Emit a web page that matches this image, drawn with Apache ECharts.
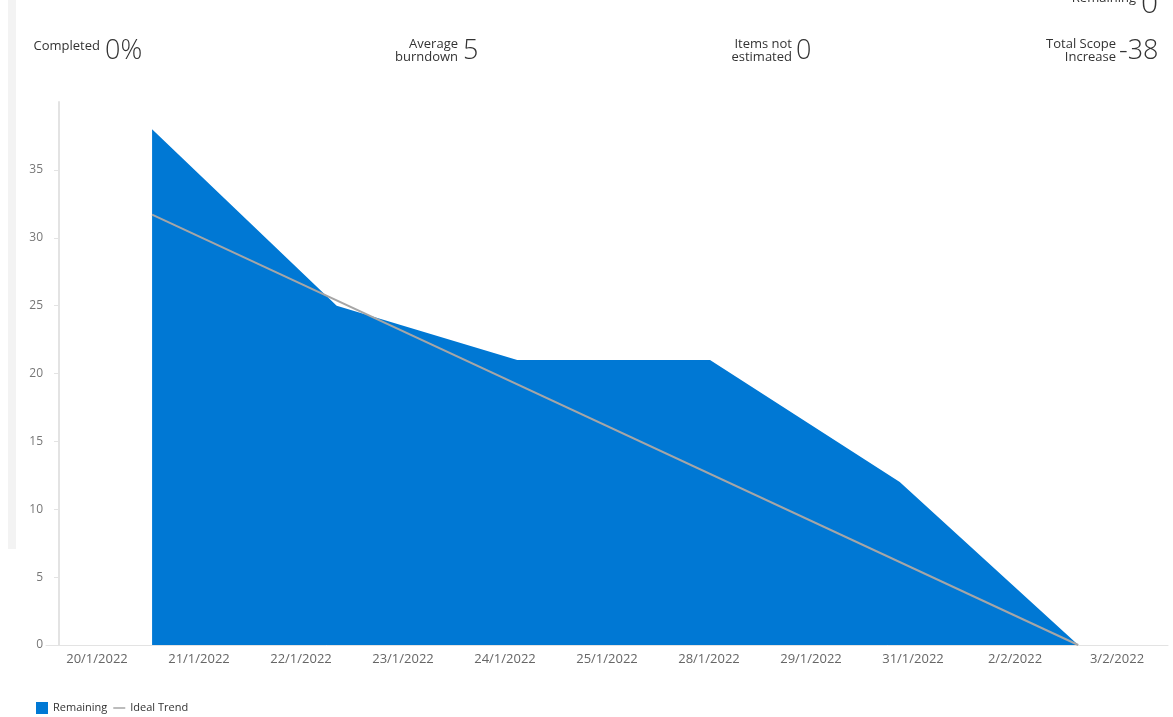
<!DOCTYPE html>
<html>
<head>
<meta charset="utf-8">
<script src="https://cdn.jsdelivr.net/npm/echarts@6/dist/echarts.min.js"></script>
<style>
  html, body { margin: 0; padding: 0; background: #ffffff; }
  #chart { width: 1173px; height: 717px; }
</style>
</head>
<body>
<div id="chart"></div>
<script>
// ---- data ----
var dateLabels = ['20/1/2022', '21/1/2022', '22/1/2022', '23/1/2022', '24/1/2022', '25/1/2022', '28/1/2022', '29/1/2022', '31/1/2022', '2/2/2022', '3/2/2022'];
// positions measured along the date axis (in category-band units)
var remainingX = [1.04, 2.85, 4.62, 6.51, 8.37, 10.12];
var remainingY = [38, 25, 21, 21, 12, 0];
var idealX = [1.04, 10.12];
var idealY = [31.7, 0];
var yTicks = { min: 0, max: 40, interval: 5 };
var statLabels = [['Completed'], ['Average', 'burndown'], ['Items not', 'estimated'], ['Total Scope', 'Increase']];
var statValues = ['0%', '5', '0', '-38'];

var remainingData = remainingX.map(function (x, i) { return [x, remainingY[i]]; });
var idealData = idealX.map(function (x, i) { return [x, idealY[i]]; });

var FONT = '"Open Sans", "Noto Sans", sans-serif';
var chart = echarts.init(document.getElementById('chart'), null, { renderer: 'canvas' });

// layout of the summary strip (pixels)
var statLabelRight = [100, 458, 792, 1116];
var statValueLeft = [105, 463, 796, 1119];

var graphics = [
  { type: 'rect', shape: { x: 8, y: 0, width: 8, height: 549 }, style: { fill: '#f3f3f3' }, silent: true }
];
statLabels.forEach(function (lines, i) {
  if (lines.length === 1) {
    graphics.push({ type: 'text', x: statLabelRight[i], y: 46,
      style: { text: lines[0], fill: '#333', font: '13px ' + FONT, textAlign: 'right', textVerticalAlign: 'middle' } });
  } else {
    graphics.push({ type: 'text', x: statLabelRight[i], y: 44,
      style: { text: lines[0], fill: '#333', font: '13px ' + FONT, textAlign: 'right', textVerticalAlign: 'middle' } });
    graphics.push({ type: 'text', x: statLabelRight[i], y: 57,
      style: { text: lines[1], fill: '#333', font: '13px ' + FONT, textAlign: 'right', textVerticalAlign: 'middle' } });
  }
  graphics.push({ type: 'text', x: statValueLeft[i], y: 51,
    style: { text: statValues[i], fill: '#333', font: '300 27px ' + FONT, textAlign: 'left', textVerticalAlign: 'middle' } });
});
// clipped "Remaining 0" at very top right
graphics.push({ type: 'text', x: 1136, y: -2,
  style: { text: 'Remaining', fill: '#333', font: '13px ' + FONT, textAlign: 'right', textVerticalAlign: 'middle' } });
graphics.push({ type: 'text', x: 1141, y: 4,
  style: { text: '0', fill: '#333', font: '300 30px ' + FONT, textAlign: 'left', textVerticalAlign: 'middle' } });

var option = {
  backgroundColor: '#ffffff',
  animation: false,
  textStyle: { fontFamily: FONT },
  grid: { left: 46, right: 5, top: 102, bottom: 72, containLabel: false },
  legend: {
    left: 31, top: 697,
    itemWidth: 12, itemHeight: 12, itemGap: 6,
    symbolKeepAspect: true,
    textStyle: { fontSize: 11, color: '#333', fontFamily: FONT },
    data: [
      { name: 'Remaining', icon: 'rect' },
      { name: 'Ideal Trend', icon: 'path://M0,0 L12,0 L12,1.5 L0,1.5 Z' }
    ]
  },
  xAxis: [
    {
      type: 'category',
      data: dateLabels,
      boundaryGap: true,
      axisLine: { show: true, lineStyle: { color: '#e3e3e3', width: 1 } },
      axisTick: { show: false },
      axisLabel: { color: '#666', fontSize: 13, margin: 8, interval: 0, fontFamily: FONT },
      splitLine: { show: false }
    },
    {
      type: 'value',
      min: 0, max: dateLabels.length,
      show: false,
      splitLine: { show: false }
    }
  ],
  yAxis: {
    type: 'value',
    min: yTicks.min, max: yTicks.max, interval: yTicks.interval,
    offset: -13,
    axisLine: { show: true, lineStyle: { color: '#e3e3e3', width: 2 } },
    axisTick: { show: true, length: 5, lineStyle: { color: '#e3e3e3' } },
    axisLabel: { color: '#777', fontSize: 12, margin: 16, showMaxLabel: false, fontFamily: FONT },
    splitLine: { show: false }
  },
  series: [
    {
      name: 'Remaining',
      type: 'line',
      xAxisIndex: 1,
      data: remainingData,
      symbol: 'none',
      lineStyle: { width: 0, color: '#0078d4' },
      itemStyle: { color: '#0078d4' },
      areaStyle: { color: '#0078d4', opacity: 1 },
      z: 2
    },
    {
      name: 'Ideal Trend',
      type: 'line',
      xAxisIndex: 1,
      data: idealData,
      symbol: 'none',
      lineStyle: { width: 2, color: '#a6a6a6' },
      itemStyle: { color: '#a6a6a6' },
      z: 3
    }
  ],
  graphic: graphics
};
chart.setOption(option);
</script>
</body>
</html>
